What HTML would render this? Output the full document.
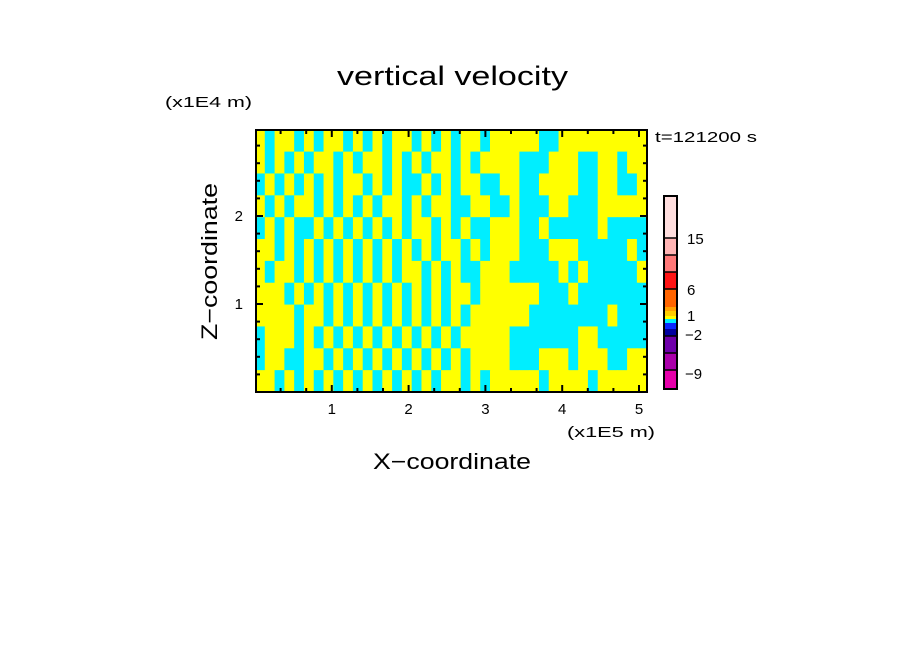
<!DOCTYPE html>
<html><head><meta charset="utf-8"><style>
body{margin:0;background:#fff;}
svg{display:block;font-family:"Liberation Sans",sans-serif;}
</style></head><body>
<svg id="chart" width="904" height="654">
<text x="337" y="85" textLength="231" lengthAdjust="spacingAndGlyphs" font-size="27">vertical velocity</text>
<text x="165" y="107" textLength="87" lengthAdjust="spacingAndGlyphs" font-size="15">(x1E4 m)</text>
<text x="655" y="142" textLength="102" lengthAdjust="spacingAndGlyphs" font-size="15">t=121200 s</text>
<text x="567" y="437" textLength="88" lengthAdjust="spacingAndGlyphs" font-size="15">(x1E5 m)</text>
<text x="373" y="469" textLength="158" lengthAdjust="spacingAndGlyphs" font-size="22">X−coordinate</text>
<text transform="translate(217,340) rotate(-90)" textLength="157" lengthAdjust="spacingAndGlyphs" font-size="22">Z−coordinate</text>
<g id="field"></g>
<g id="ticks"></g>
<rect x="256" y="130" width="391" height="262" fill="none" stroke="#000" stroke-width="2"/>
<g id="cbar"></g>
</svg>
<script>
const fieldRows=[
"YCYYCYCYYCYCYCYYCYCYCYYCYYYYYCCYYYYYYYYY",
"YCYCYCYYCYCYYCYCYCYYCYCYYYYCCCYYYCCYYCYY",
"CYCYCYCYCYYCYCYCCYCYCYYCCYYCCYYYYCCYYCCY",
"YCYCYYCYCYCYCYYCYCYYCCYYCCYCCCYYCCCYYYYY",
"CYCYCCYCYCYCYCYCYYCYCYCCYYYCCYCCCCCYCCCC",
"YYCYCYCYCYCYCYCYCYCYYCYCYYYCCCYYYCCCCCYC",
"YCYYCYCYCYCYCYCYYCYCYCCYYYCCCCCYCYCCCCCY",
"YYYCYCYCYCYCYCYCYCYCYYCYYYYYYCCCYCCCCCCC",
"YYYYCYYCYCYCYCYCYCYCYCYYYYYYCCCCCCCCYCCC",
"CYYYCYCYCYCYCYCYCYCYCYYYYYCCCCCCCYYCCCCC",
"CYYCCYYCYCYCYCYCYCYCYCYYYYCCCYYYCYYYCCYY",
"YYCYCYCYCYCYCYCYCYCYYCYCYYYYYCYYYYCYYYYY"];
const xTicks=[1,2,3,4,5];
const zTicks=[1,2];
const xMax=5.1, zMax=2.98;
const cbarColors=["#ffdede","#ffb4b4","#ff7878","#ff1414","#ff6400","#ffa000","#ffcc00","#ffff00","#00eeff","#0a28ff","#0000a0","#6e00aa","#aa00aa","#e600aa"];
const cbarHeights=[42,17,17,17,18,4,5,3,4,6,7,17,17,19];
const cbarLabels=["15","6","1","−2","−9"];
const cbarLabelY=[244,295,321,340,379];
const X=v=>255+v*76.8, Z=v=>392-v*88;
const NS="http://www.w3.org/2000/svg";
function mk(t,a,p){const e=document.createElementNS(NS,t);for(const k in a)e.setAttribute(k,a[k]);p.appendChild(e);return e;}
const f=document.getElementById('field');
const nr=fieldRows.length,nc=fieldRows[0].length;
for(let r=0;r<nr;r++)for(let c=0;c<nc;c++){
 const x0=X(c*xMax/nc),x1=X((c+1)*xMax/nc),z0=Z(zMax-r*zMax/nr),z1=Z(zMax-(r+1)*zMax/nr);
 const e=mk('rect',{x:x0,y:z0,width:x1-x0+0.5,height:z1-z0+0.5,fill:fieldRows[r][c]=='Y'?'#ffff00':'#00eeff'},f);
 
 
}
const t=document.getElementById('ticks');
for(let i=1;i<16;i++){const v=i/3,x=X(v);if(x>647)break;const maj=i%3==0;
 mk('line',{x1:x,x2:x,y1:392,y2:392-(maj?7:4),stroke:'#000','stroke-width':2},t);
 mk('line',{x1:x,x2:x,y1:130,y2:130+(maj?7:4),stroke:'#000','stroke-width':2},t);}
for(let i=1;i<15;i++){const v=i*0.2,y=Z(v);if(y<131)break;const maj=i%5==0;
 mk('line',{x1:256,x2:256+(maj?7:4),y1:y,y2:y,stroke:'#000','stroke-width':2},t);
 mk('line',{x1:647,x2:647-(maj?7:4),y1:y,y2:y,stroke:'#000','stroke-width':2},t);}
xTicks.forEach(v=>{const e=mk('text',{x:X(v),y:414,'text-anchor':'middle','font-size':15},t);e.textContent=v;
 
 });
zTicks.forEach(v=>{const e=mk('text',{x:243,y:Z(v)+5,'text-anchor':'end','font-size':15},t);e.textContent=v;
 
 });
const cb=document.getElementById('cbar');let y=196;
cbarColors.forEach((c,i)=>{const e=mk('rect',{x:664,y:y,width:13,height:cbarHeights[i],fill:c},cb);
 
 
 if(cbarHeights[i]>8)mk('line',{x1:664,x2:677,y1:y,y2:y,stroke:'#000','stroke-width':1.5},cb);
 y+=cbarHeights[i];});
mk('rect',{x:664,y:196,width:13,height:y-196,fill:'none',stroke:'#000','stroke-width':2},cb);
cbarLabels.forEach((l,i)=>{
 const e=mk('text',{x:i>=3?685:687,y:cbarLabelY[i],'font-size':15},cb);e.textContent=l;
 
 });
</script>
</body></html>
